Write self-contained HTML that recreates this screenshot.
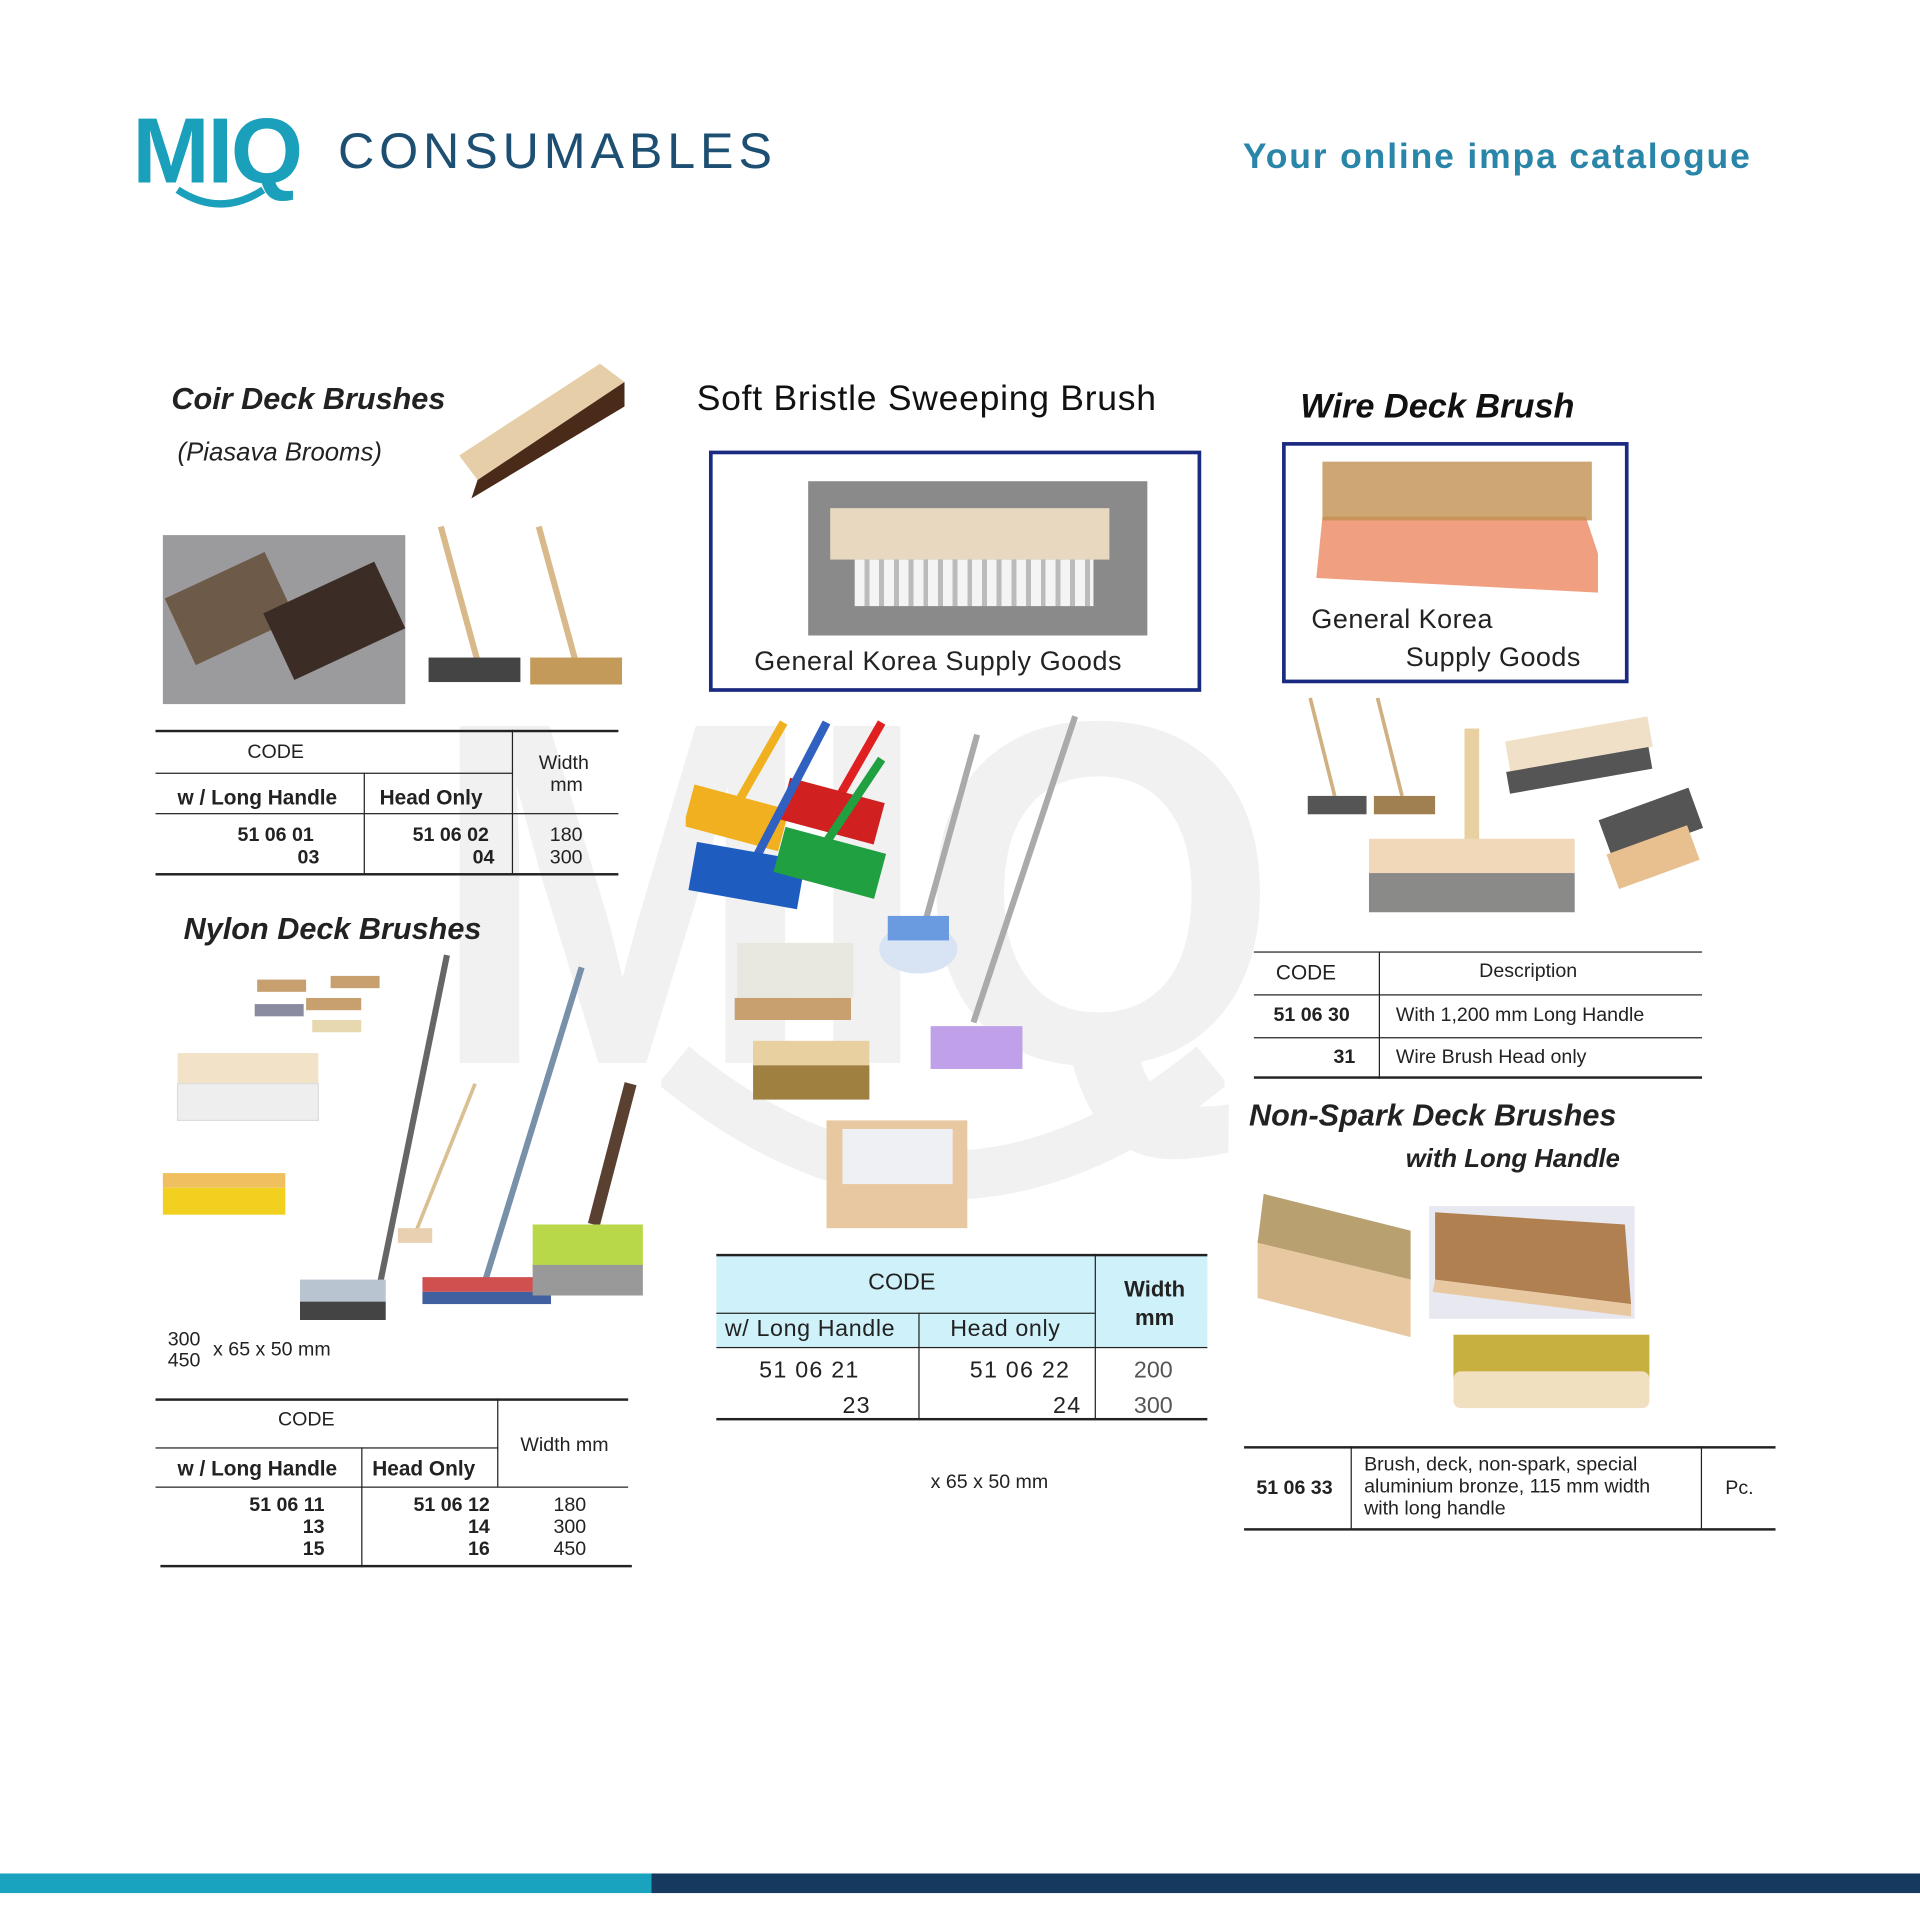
<!DOCTYPE html>
<html><head><meta charset="utf-8">
<style>
html,body{margin:0;padding:0;background:#fff;}
body{width:1920px;height:1920px;overflow:hidden;position:relative;font-family:"Liberation Sans",sans-serif;}
#s{position:absolute;left:0;top:0;width:1568px;height:1568px;transform:scale(1.22449);transform-origin:0 0;}
.a{position:absolute;}
.h{font-weight:bold;font-style:italic;color:#222;font-size:25px;white-space:nowrap;}
.t{font-size:16px;color:#222;white-space:nowrap;}
.ln{position:absolute;background:#222;}
.img{position:absolute;}
</style></head><body><div id="s">
<!-- watermark -->
<div class="a" style="left:350px;top:530px;font-size:400px;font-weight:bold;color:#f1f1f1;letter-spacing:-12px;line-height:1;transform:scaleX(0.95);transform-origin:0 0;">MIQ</div>
<svg class="a" style="left:540px;top:850px" width="460" height="150"><path d="M10 20 Q230 200 450 20" stroke="#f1f1f1" stroke-width="40" fill="none"/></svg>

<!-- header -->
<div class="a" style="left:108px;top:80px;font-size:76px;font-weight:bold;color:#1ba0bb;letter-spacing:-2px;">MIQ</div>
<svg class="a" style="left:140px;top:150px" width="80" height="25"><path d="M5 5 Q40 28 75 5" stroke="#1ba0bb" stroke-width="6" fill="none"/></svg>
<div class="a" style="left:276px;top:100px;font-size:41px;color:#1d4f72;letter-spacing:4px;">CONSUMABLES</div>
<div class="a" style="left:1015px;top:112px;font-size:29px;font-weight:bold;color:#2a86a8;letter-spacing:1.5px;">Your online impa catalogue</div>

<!-- Coir -->
<div class="a h" style="left:140px;top:312px;">Coir Deck Brushes</div>
<div class="a" style="left:145px;top:358px;font-size:21px;font-style:italic;color:#222;">(Piasava Brooms)</div>
<svg class="img" style="left:370px;top:292px" width="145" height="120"><polygon points="5,80 120,5 140,20 20,100" fill="#e6cfa8"/><polygon points="20,100 140,20 140,40 15,115" fill="#4a2a18"/></svg>
<div class="img" style="left:133px;top:437px;width:198px;height:138px;background:#9b9a9c;"><div class="a" style="left:10px;top:30px;width:90px;height:60px;background:#6d5a48;transform:rotate(-25deg)"></div><div class="a" style="left:90px;top:40px;width:100px;height:60px;background:#3b2c26;transform:rotate(-25deg)"></div></div>
<svg class="img" style="left:345px;top:425px" width="170" height="145"><line x1="15" y1="5" x2="45" y2="115" stroke="#d8b98a" stroke-width="5"/><line x1="95" y1="5" x2="125" y2="115" stroke="#d8b98a" stroke-width="5"/><rect x="5" y="112" width="75" height="20" fill="#444"/><rect x="88" y="112" width="75" height="22" fill="#c49a5a"/></svg>
<div class="ln" style="left:127px;top:596px;width:378px;height:2px"></div>
<div class="ln" style="left:127px;top:631px;width:292px;height:1px"></div>
<div class="ln" style="left:127px;top:664px;width:378px;height:1px"></div>
<div class="ln" style="left:127px;top:713px;width:378px;height:2px"></div>
<div class="ln" style="left:418px;top:596px;width:1px;height:118px"></div>
<div class="ln" style="left:297px;top:631px;width:1px;height:83px"></div>
<div class="a t" style="left:202px;top:606px;">CODE</div>
<div class="a t" style="left:440px;top:615px;text-align:center;line-height:18px;">Width<br>&nbsp;mm</div>
<div class="a t" style="left:145px;top:642px;font-weight:bold;font-size:17px;">w / Long Handle</div>
<div class="a t" style="left:310px;top:642px;font-weight:bold;font-size:17px;">Head Only</div>
<div class="a t" style="left:194px;top:674px;font-weight:bold;line-height:18px;">51 06 01<br><span style="padding-left:49px">03</span></div>
<div class="a t" style="left:337px;top:674px;font-weight:bold;line-height:18px;">51 06 02<br><span style="padding-left:49px">04</span></div>
<div class="a t" style="left:449px;top:674px;line-height:18px;">180<br>300</div>

<!-- Nylon -->
<div class="a h" style="left:150px;top:745px;">Nylon Deck Brushes</div>
<svg class="img" style="left:130px;top:775px" width="400" height="320">
<rect x="80" y="25" width="40" height="10" fill="#c8a070"/><rect x="140" y="22" width="40" height="10" fill="#c8a070"/><rect x="78" y="45" width="40" height="10" fill="#8a8aa0"/><rect x="120" y="40" width="45" height="10" fill="#c8a070"/><rect x="125" y="58" width="40" height="10" fill="#e8d8b0"/>
<rect x="15" y="85" width="115" height="25" fill="#f2e2c8"/><rect x="15" y="110" width="115" height="30" fill="#eee" stroke="#ddd"/>
<rect x="3" y="183" width="100" height="12" fill="#f0c060"/><rect x="3" y="195" width="100" height="22" fill="#f2d020"/>
<line x1="235" y1="5" x2="180" y2="275" stroke="#666" stroke-width="5"/><rect x="115" y="270" width="70" height="18" fill="#b8c4d0"/><rect x="115" y="288" width="70" height="15" fill="#444"/>
<line x1="345" y1="15" x2="265" y2="275" stroke="#7890a8" stroke-width="5"/><rect x="215" y="268" width="105" height="12" fill="#d05050"/><rect x="215" y="280" width="105" height="10" fill="#4060a0"/>
<line x1="258" y1="110" x2="210" y2="230" stroke="#d8c090" stroke-width="3"/><rect x="195" y="228" width="28" height="12" fill="#e8d0b0"/>
<line x1="385" y1="110" x2="355" y2="225" stroke="#5a4030" stroke-width="10"/><rect x="305" y="225" width="90" height="35" fill="#b8d84a"/><rect x="305" y="258" width="90" height="25" fill="#999"/>
</svg>
<div class="a t" style="left:137px;top:1086px;line-height:17px;">300<br>450</div>
<div class="a t" style="left:174px;top:1094px;">x 65 x 50 mm</div>
<div class="ln" style="left:127px;top:1142px;width:386px;height:2px"></div>
<div class="ln" style="left:127px;top:1182px;width:280px;height:1px"></div>
<div class="ln" style="left:127px;top:1214px;width:386px;height:1px"></div>
<div class="ln" style="left:131px;top:1278px;width:385px;height:2px"></div>
<div class="ln" style="left:406px;top:1142px;width:1px;height:72px"></div>
<div class="ln" style="left:295px;top:1182px;width:1px;height:98px"></div>
<div class="a t" style="left:227px;top:1151px;">CODE</div>
<div class="a t" style="left:425px;top:1172px;">Width mm</div>
<div class="a t" style="left:145px;top:1190px;font-weight:bold;font-size:17px;">w / Long Handle</div>
<div class="a t" style="left:304px;top:1190px;font-weight:bold;font-size:17px;">Head Only</div>
<div class="a t" style="left:195px;top:1221px;font-weight:bold;line-height:18px;text-align:right;width:70px;">51 06 11<br>13<br>15</div>
<div class="a t" style="left:330px;top:1221px;font-weight:bold;line-height:18px;text-align:right;width:70px;">51 06 12<br>14<br>16</div>
<div class="a t" style="left:452px;top:1221px;line-height:18px;">180<br>300<br>450</div>

<!-- Soft bristle -->
<div class="a" style="left:569px;top:310px;font-size:29px;color:#111;letter-spacing:0.6px;">Soft Bristle Sweeping Brush</div>
<div class="a" style="left:579px;top:368px;width:396px;height:191px;border:3px solid #1a2a80;"></div>
<div class="img" style="left:660px;top:393px;width:277px;height:126px;background:#8a8a8a;"><div class="a" style="left:18px;top:22px;width:228px;height:42px;background:#e8d8c0;"></div><div class="a" style="left:38px;top:64px;width:195px;height:38px;background:repeating-linear-gradient(90deg,#f4f4f4 0 8px,#bbb 8px 12px);"></div></div>
<div class="a" style="left:616px;top:527px;font-size:22px;color:#222;letter-spacing:0.5px;">General Korea Supply Goods</div>
<svg class="img" style="left:560px;top:580px" width="330" height="425">
<line x1="80" y1="10" x2="40" y2="80" stroke="#f0b020" stroke-width="7"/><rect x="2" y="70" width="80" height="35" fill="#f0b020" transform="rotate(15 40 85)"/>
<line x1="160" y1="10" x2="120" y2="80" stroke="#e02020" stroke-width="7"/><rect x="80" y="65" width="80" height="35" fill="#d02020" transform="rotate(15 120 80)"/>
<line x1="115" y1="10" x2="55" y2="125" stroke="#3060c0" stroke-width="7"/><rect x="5" y="115" width="90" height="40" fill="#1e5cc0" transform="rotate(10 50 135)"/>
<line x1="160" y1="40" x2="110" y2="115" stroke="#20a040" stroke-width="7"/><rect x="75" y="105" width="85" height="38" fill="#20a040" transform="rotate(15 115 125)"/>
<line x1="238" y1="20" x2="195" y2="175" stroke="#aaa" stroke-width="5"/><ellipse cx="190" cy="195" rx="32" ry="20" fill="#d8e4f4"/><rect x="165" y="168" width="50" height="20" fill="#6a9ae0"/>
<line x1="318" y1="5" x2="235" y2="255" stroke="#aaa" stroke-width="5"/><rect x="200" y="258" width="75" height="35" fill="#c0a0e8"/>
<rect x="42" y="190" width="95" height="45" fill="#e8e8e0"/><rect x="40" y="235" width="95" height="18" fill="#c8a070"/>
<rect x="55" y="270" width="95" height="20" fill="#e8d0a0"/><rect x="55" y="290" width="95" height="28" fill="#a08040"/>
<rect x="115" y="335" width="115" height="88" fill="#e8c8a0"/><rect x="128" y="342" width="90" height="45" fill="#eef0f4"/>
</svg>
<div class="a" style="left:585px;top:1024px;width:401px;height:48px;background:#cff2fa;"></div>
<div class="a" style="left:585px;top:1072px;width:309px;height:28px;background:#cff2fa;"></div>
<div class="a" style="left:894px;top:1024px;width:92px;height:76px;background:#cff2fa;"></div>
<div class="ln" style="left:585px;top:1024px;width:401px;height:2px"></div>
<div class="ln" style="left:585px;top:1072px;width:309px;height:1px"></div>
<div class="ln" style="left:585px;top:1100px;width:401px;height:1px"></div>
<div class="ln" style="left:585px;top:1158px;width:401px;height:2px"></div>
<div class="ln" style="left:894px;top:1024px;width:1px;height:135px"></div>
<div class="ln" style="left:750px;top:1072px;width:1px;height:87px"></div>
<div class="a" style="left:709px;top:1037px;font-size:19px;color:#222;">CODE</div>
<div class="a" style="left:918px;top:1042px;font-size:18px;font-weight:bold;color:#222;text-align:center;line-height:23px;">Width<br>mm</div>
<div class="a" style="left:592px;top:1075px;font-size:19px;color:#222;letter-spacing:0.5px;">w/ Long Handle</div>
<div class="a" style="left:776px;top:1075px;font-size:19px;color:#222;letter-spacing:0.5px;">Head only</div>
<div class="a" style="left:620px;top:1105px;font-size:19px;color:#222;letter-spacing:1px;line-height:29px;">51 06 21<br><span style="padding-left:68px">23</span></div>
<div class="a" style="left:792px;top:1105px;font-size:19px;color:#222;letter-spacing:1px;line-height:29px;">51 06 22<br><span style="padding-left:68px">24</span></div>
<div class="a" style="left:926px;top:1105px;font-size:19px;color:#555;line-height:29px;">200<br>300</div>
<div class="a t" style="left:760px;top:1202px;">x 65 x 50 mm</div>

<!-- Wire -->
<div class="a h" style="left:1062px;top:316px;font-size:28px;color:#111;">Wire Deck Brush</div>
<div class="a" style="left:1047px;top:361px;width:277px;height:191px;border:3px solid #1a2a80;"></div>
<svg class="img" style="left:1070px;top:372px" width="245" height="115"><polygon points="10,50 225,50 235,80 235,112 5,100" fill="#f0a080"/><rect x="10" y="5" width="220" height="48" fill="#c09050" opacity="0.8"/></svg>
<div class="a" style="left:1071px;top:490px;font-size:22px;color:#222;line-height:31px;letter-spacing:0.4px;">General Korea<br><span style="padding-left:77px">Supply Goods</span></div>
<svg class="img" style="left:1060px;top:565px" width="335" height="185">
<line x1="10" y1="5" x2="30" y2="85" stroke="#d0b080" stroke-width="3"/><rect x="8" y="85" width="48" height="15" fill="#555"/>
<line x1="65" y1="5" x2="85" y2="85" stroke="#d0b080" stroke-width="3"/><rect x="62" y="85" width="50" height="15" fill="#a08050"/>
<rect x="136" y="30" width="12" height="95" fill="#e8d0a0"/><rect x="58" y="120" width="168" height="28" fill="#f0d8b8"/><rect x="58" y="148" width="168" height="32" fill="#8a8a88"/>
<rect x="170" y="30" width="118" height="25" fill="#f0e0c8" transform="rotate(-10 230 40)"/><rect x="170" y="55" width="118" height="18" fill="#555" transform="rotate(-10 230 60)"/>
<rect x="250" y="90" width="78" height="35" fill="#555" transform="rotate(-20 290 110)"/><rect x="255" y="120" width="70" height="30" fill="#e8c090" transform="rotate(-20 290 135)"/>
</svg>
<div class="ln" style="left:1024px;top:777px;width:366px;height:1px"></div>
<div class="ln" style="left:1024px;top:812px;width:366px;height:1px"></div>
<div class="ln" style="left:1024px;top:847px;width:366px;height:1px"></div>
<div class="ln" style="left:1024px;top:879px;width:366px;height:2px"></div>
<div class="ln" style="left:1126px;top:777px;width:1px;height:104px"></div>
<div class="a t" style="left:1042px;top:785px;font-size:17px;">CODE</div>
<div class="a t" style="left:1208px;top:785px;">Description</div>
<div class="a t" style="left:1040px;top:821px;font-weight:bold;">51 06 30</div>
<div class="a t" style="left:1140px;top:821px;">With 1,200 mm Long Handle</div>
<div class="a t" style="left:1089px;top:855px;font-weight:bold;">31</div>
<div class="a t" style="left:1140px;top:855px;">Wire Brush Head only</div>

<!-- Non-spark -->
<div class="a h" style="left:1020px;top:897px;">Non-Spark Deck Brushes</div>
<div class="a" style="left:1148px;top:935px;font-size:21px;font-weight:bold;font-style:italic;color:#222;">with Long Handle</div>
<svg class="img" style="left:1022px;top:970px" width="330" height="185">
<polygon points="10,5 130,35 130,75 5,45" fill="#b8a070"/><polygon points="5,45 130,75 130,122 5,90" fill="#e8c8a0"/>
<rect x="145" y="15" width="168" height="92" fill="#e8e8f0"/><polygon points="150,20 305,30 310,95 150,75" fill="#b08050"/><polygon points="150,75 310,95 310,105 148,85" fill="#e8c8a0"/>
<rect x="165" y="120" width="160" height="35" fill="#c8b040"/><rect x="165" y="150" width="160" height="30" fill="#f0e0c0" rx="6"/>
</svg>
<div class="ln" style="left:1016px;top:1181px;width:434px;height:2px"></div>
<div class="ln" style="left:1016px;top:1248px;width:434px;height:2px"></div>
<div class="ln" style="left:1103px;top:1181px;width:1px;height:68px"></div>
<div class="ln" style="left:1389px;top:1181px;width:1px;height:68px"></div>
<div class="a t" style="left:1026px;top:1207px;font-weight:bold;">51 06 33</div>
<div class="a t" style="left:1114px;top:1188px;line-height:18px;">Brush, deck, non-spark, special<br>aluminium bronze, 115 mm width<br>with long handle</div>
<div class="a t" style="left:1409px;top:1207px;">Pc.</div>

<!-- bottom bar -->
<div class="a" style="left:0;top:1530px;width:532px;height:16px;background:#1aa3bf;"></div>
<div class="a" style="left:532px;top:1530px;width:1036px;height:16px;background:#163a5f;"></div>
</div></body></html>
